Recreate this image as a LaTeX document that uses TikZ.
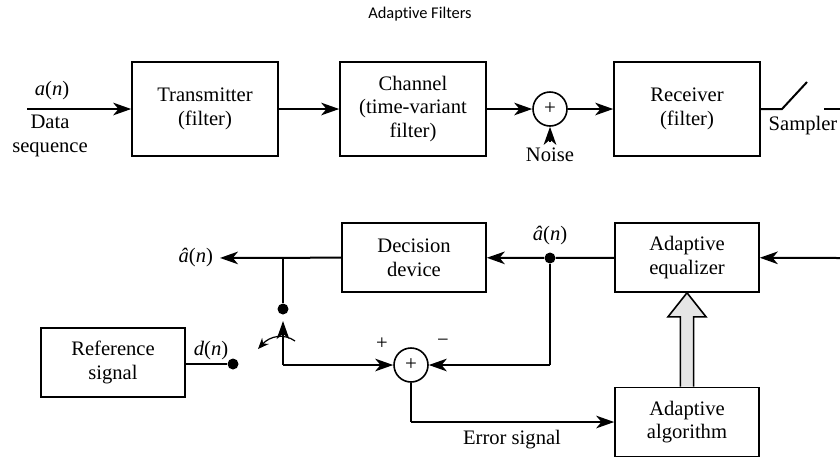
\documentclass[tikz,border=0pt]{standalone}
\usepackage{fontspec}
\setmainfont{Liberation Serif}
\newfontfamily\titlefont[Ligatures=NoCommon]{Carlito}
\usetikzlibrary{arrows.meta,positioning,calc}

\begin{document}
\begin{tikzpicture}[x=0.5pt, y=-0.5pt, font=\fontsize{10.3}{11.8}\selectfont,
  >={Stealth[length=9pt,width=6.3pt,inset=2.6pt]},
  block/.style={draw, line width=0.8pt, minimum width=73pt, minimum height=47pt, align=center, inner sep=1pt},
  lowblock/.style={block, minimum width=72pt, minimum height=34.5pt},
  sumnode/.style={draw, circle, line width=0.8pt, minimum size=17pt, inner sep=0pt, font=\fontsize{10.5}{11}\selectfont},
  sig/.style={line width=1pt},
  tap/.style={circle, fill, inner sep=0pt, minimum size=5.5pt}]
\useasboundingbox (0,0) rectangle (840,457);
\node[font=\titlefont\fontsize{8.2}{10}\selectfont] (title) at (420,14) {Adaptive Filters};

% transmission path
\coordinate (in) at (27,109);
\node[block] (tx) at (205,109) {Transmitter\\(filter)};
\node[block] (ch) at (413,109) {Channel\\(time-variant\\filter)};
\node[sumnode] (sum1) at (550,109) {+};
\node[block] (rx) at (687,109) {Receiver\\(filter)};
\node (an) at (52,91) {\textit{a}(\textit{n})};
\node[align=center] (ds) at (50,136) {Data\\sequence};
\coordinate (nz) at (550,142);
\node[anchor=north] (noise) at (550,141) {Noise};
\coordinate (s1) at (782,109);
\coordinate (s2) at (807,82);
\coordinate (s3) at (824,109);
\coordinate (s4) at (840,109);
\node (smp) at (803,126) {Sampler};
\draw[sig,->] (in) -- (tx);
\draw[sig,->] (tx) -- (ch);
\draw[sig,->] (ch) -- (sum1);
\draw[sig,->] (nz) -- (sum1);
\draw[sig,->] (sum1) -- (rx);
\draw[sig] (rx.east) -- (s1) -- (s2);
\draw[sig] (s3) -- (s4);

% equalizer loop
\node[lowblock] (dd) at (414,257.5) {Decision\\device};
\node[lowblock] (eq) at (687,257.5) {Adaptive\\equalizer};
\node[lowblock] (alg) at (687,422) {Adaptive\\algorithm};
\node[lowblock] (ref) at (113,362.5) {Reference\\signal};
\node[sumnode] (sum2) at (411,365) {+};
\coordinate (eqin) at (840,258);
\node[tap] (t1) at (550,258) {};
\node[anchor=south] (ahat1) at (550,252) {\textit{â}(\textit{n})};
\node[anchor=east] (ahat2) at (220,258) {\textit{â}(\textit{n})};
\coordinate (j) at (283,258);
\node[tap] (sw) at (283,309) {};
\coordinate (arm) at (283,321);
\coordinate (c) at (283,365);
\node[tap] (dn) at (233,364) {};
\node (dlab) at (211,351) {\textit{d}(\textit{n})};
\coordinate (t2) at (550,365);
\coordinate (e1) at (411,422);
\node (plus) at (382,344) {+};
\node (minus) at (443,343) {−};
\node (err) at (512,440) {Error signal};
\draw[sig,->] (eqin) -- (eq);
\draw[sig] (eq) -- (t1);
\draw[sig,->] (t1) -- (dd);
\draw[sig,->] (dd) -- (ahat2);
\draw[sig] (j) -- (sw);
\draw[sig,->] (c) -- (arm);
\draw[sig,->] (c) -- (sum2);
\draw[sig] (ref.east |- dn) -- (dn);
\draw[line width=0.6pt,->,>={Stealth[length=5.5pt,width=4.5pt]}] (295,341) .. controls (284,333) and (270,336) .. (258,349);
\draw[sig] (t1) -- (t2);
\draw[sig,->] (t2) -- (sum2);
\draw[sig] (sum2) -- (e1);
\draw[sig,->] (e1) -- (alg);
\draw[line width=0.8pt, fill=gray!20]
  ($(alg.north)+(-3.3pt,0)$) -- ($(eq.south)+(-3.3pt,-12pt)$) -- ($(eq.south)+(-9.5pt,-12pt)$)
  -- (eq.south) -- ($(eq.south)+(9.5pt,-12pt)$) -- ($(eq.south)+(3.3pt,-12pt)$)
  -- ($(alg.north)+(3.3pt,0)$);
\end{tikzpicture}
\end{document}
